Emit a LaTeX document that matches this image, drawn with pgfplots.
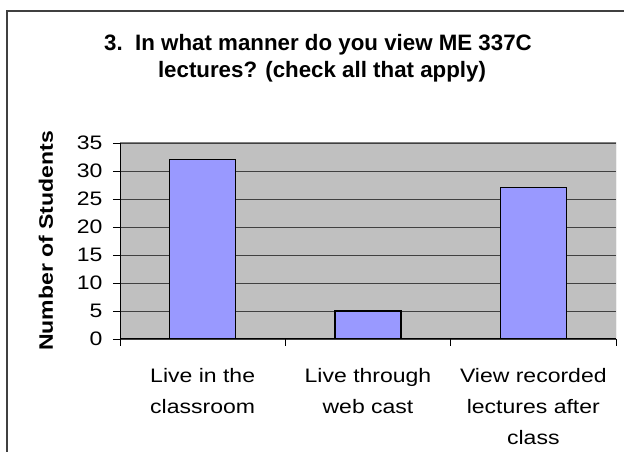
\documentclass[border=0pt]{standalone}
\usepackage{pgfplots}
\pgfplotsset{compat=1.18}
\usepackage{fontspec}
\setmainfont{Liberation Sans}
\newfontfamily\wide[FakeStretch=1.18]{Liberation Sans}
\definecolor{barblue}{HTML}{9999FF}
\definecolor{plotgray}{HTML}{C0C0C0}
\definecolor{frame}{HTML}{404040}
\begin{document}
\begin{tikzpicture}[x=1pt,y=1pt]
\useasboundingbox (0,0) rectangle (624,452);
\draw[line width=1.5pt, color=frame] (7,-10) -- (7,441) -- (630,441);
\node[anchor=base, font=\bfseries\fontsize{22.3}{22}\selectfont] at (318,401) {3.\ \ In what manner do you view ME 337C};
\node[anchor=base, font=\bfseries\fontsize{22.3}{22}\selectfont] at (322,374) {lectures? (check all that apply)};
\node[rotate=90, anchor=center, font=\wide\bfseries\fontsize{19.5}{22}\selectfont] at (46,211) {Number of Students};
\begin{axis}[
  at={(120pt,113pt)}, anchor=south west,
  scale only axis, width=496pt, height=196pt,
  xmin=-0.5, xmax=2.5, ymin=0, ymax=35,
  axis x line*=bottom, axis y line*=left,
  axis line style={black, line width=1pt, -},
  tick align=outside,
  ytick={0,5,...,35},
  major tick length=7pt, minor tick length=7pt,
  xtick={0,1,2},
  xticklabels={Live in the\\classroom, Live through\\web cast, View recorded\\lectures after\\class},
  major x tick style={draw=none},
  minor xtick={-0.5,0.5,1.5,2.5},
  tick style={black, line width=0.8pt},
  ymajorgrids, major grid style={frame, line width=0.8pt},
  axis background/.style={fill=plotgray},
  /pgf/number format/assume math mode=true,
  yticklabel style={font=\wide\fontsize{19.5}{22}\selectfont, xshift=-7pt},
  xticklabel style={font=\wide\fontsize{19.5}{31}\selectfont, align=center, anchor=north, yshift=-19pt},
]
\draw[gray, line width=1pt] (rel axis cs:0,1) -- (rel axis cs:1,1) -- (rel axis cs:1,0);
\addplot[ybar, bar width=66pt, fill=barblue, draw=black, line width=1.2pt] coordinates {(0,32) (1,5) (2,27)};
\end{axis}
\end{tikzpicture}
\end{document}
